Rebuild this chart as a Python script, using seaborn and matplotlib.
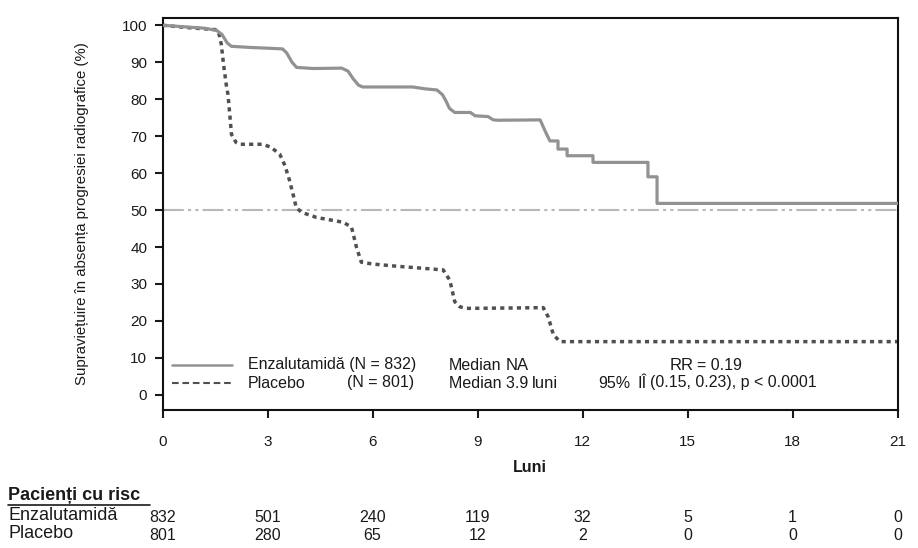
import pandas as pd
import matplotlib.pyplot as plt
import seaborn as sns
from matplotlib.lines import Line2D

# Kaplan-Meier curves (months, % free of radiographic progression)
enz_t = [0, 0.6, 1.2, 1.55, 1.7, 1.85, 1.97, 2.5, 3.0, 3.43, 3.55, 3.7, 3.83, 4.3, 5.12,
         5.3, 5.45, 5.6, 5.72, 7.15, 7.5, 7.84, 8.0, 8.1, 8.2, 8.35, 8.8, 8.93, 9.3, 9.45,
         9.6, 10.79, 10.95, 11.07, 11.3, 11.3, 11.56, 11.56, 12.3, 12.3, 13.87, 13.87,
         14.13, 14.13, 21]
enz_s = [100, 99.6, 99.2, 98.6, 97.5, 95.2, 94.3, 94.0, 93.8, 93.6, 92.5, 90.0, 88.6, 88.3, 88.4,
         87.6, 85.5, 83.8, 83.3, 83.3, 82.8, 82.5, 81.2, 79.5, 77.5, 76.4, 76.4, 75.5, 75.3, 74.4,
         74.3, 74.4, 71.0, 68.7, 68.7, 66.5, 66.5, 64.7, 64.7, 62.9, 62.9, 59.0,
         59.0, 51.8, 51.8]

plac_t = [0, 0.8, 1.55, 1.62, 1.68, 1.75, 1.82, 1.87, 1.93, 1.97, 2.1, 2.2, 2.86, 3.1, 3.35,
          3.5, 3.63, 3.75, 3.82, 3.97, 4.4, 5.16, 5.4, 5.54, 5.68, 6.0, 6.69, 7.5, 8.02, 8.21,
          8.35, 8.5, 8.69, 10.0, 10.88, 11.02, 11.17, 11.36, 21]
plac_s = [100, 99.3, 98.8, 97.5, 94.8, 89.0, 84.0, 81.3, 75.0, 70.5, 68.3, 67.8, 67.8, 67.0, 65.1,
          62.0, 58.0, 53.5, 50.7, 49.4, 48.0, 46.7, 45.4, 40.0, 35.9, 35.4, 34.8, 34.2, 33.8, 31.0,
          25.2, 23.8, 23.4, 23.5, 23.6, 21.1, 16.2, 14.4, 14.4]

months = [0, 3, 6, 9, 12, 15, 18, 21]
risk_enz = [832, 501, 240, 119, 32, 5, 1, 0]
risk_plac = [801, 280, 65, 12, 2, 0, 0, 0]
yticks = [0, 10, 20, 30, 40, 50, 60, 70, 80, 90, 100]

sns.set_theme(style='white')
plt.rcParams['font.family'] = ['Liberation Sans', 'DejaVu Sans']
txt_col = '#1a1a1a'

W, H = 918, 548
fig = plt.figure(figsize=(W / 100, H / 100), dpi=100)
ax = fig.add_axes([162.5 / W, 1 - 410 / H, (897.5 - 162.5) / W, (410 - 17.5) / H])
renderer = fig.canvas.get_renderer()


def px(x, y):
    # pixel position of the reference image -> figure fraction
    return x / W, 1 - y / H


def chain(x, y, parts):
    # write pieces of text one after the other, each with its own style
    for s, st, gap in parts:
        t = fig.text(*px(x, y), s, ha='left', va='center', color=txt_col, **st)
        x = t.get_window_extent(renderer).x1 + gap


df_enz = pd.DataFrame({'t': enz_t, 's': enz_s})
df_plac = pd.DataFrame({'t': plac_t, 's': plac_s})

ax.axhline(50, color='#b8b8b8', lw=1.5, dashes=(10, 2, 1.5, 2, 1.5, 2), zorder=1)
sns.lineplot(data=df_enz, x='t', y='s', sort=False, estimator=None, ax=ax,
             color='#929292', lw=2.3, zorder=3)
sns.lineplot(data=df_plac, x='t', y='s', sort=False, estimator=None, ax=ax,
             color='#505050', lw=2.5, zorder=2)
ax.lines[-1].set_dashes((1.2, 1.2))

ax.set_xlim(0, 21)
ax.set_ylim(-4.1, 102.1)
ax.set_xticks(months)
ax.set_yticks(yticks)
ax.tick_params(axis='both', direction='out', length=6, width=1.5, colors=txt_col,
               labelsize=11, bottom=True, left=True)
ax.tick_params(axis='x', pad=12)
ax.tick_params(axis='y', pad=5)
for s in ax.spines.values():
    s.set_color('#111111')
    s.set_linewidth(1.5)

ax.set_xlabel('')
ax.set_ylabel('Supraviețuire în absența progresiei radiografice (%)', fontsize=10.8,
              color=txt_col)
ax.yaxis.set_label_coords(-0.1, 0.5)
fig.text(*px(530, 468), 'Luni', ha='center', va='center', fontsize=11.5,
         fontweight='bold', color=txt_col)

# legend block inside the axes
fig.add_artist(Line2D([172 / W, 232 / W], [1 - 365 / H] * 2, color='#929292', lw=1.8))
fig.add_artist(Line2D([172 / W, 232 / W], [1 - 383 / H] * 2, color='#505050', lw=1.5,
                      dashes=(3.2, 1.8)))
leg = dict(fontsize=11.5)
reg = dict(fontsize=12)
chain(248, 365, [('Enzalutamidă (N = 832)', leg, 0)])
chain(248, 383, [('Placebo', leg, 0)])
chain(347, 383, [('(N = 801)', leg, 0)])
chain(449, 365, [('Median', leg, 4), ('NA', reg, 0)])
chain(449, 383, [('Median 3.9', leg, 4), ('luni', reg, 0)])
chain(670, 365, [('RR', reg, 3), ('= 0.19', leg, 0)])
chain(598, 383, [('95%', leg, 7), ('IÎ', reg, 4), ('(0.15, 0.23), p < 0.0001', leg, 0)])

# number at risk table
fig.text(*px(8, 495), 'Pacienți cu risc', ha='left', va='center', fontsize=13,
         fontweight='bold', color=txt_col)
fig.add_artist(Line2D([8 / W, 150 / W], [1 - 504.5 / H] * 2, color=txt_col, lw=1.2))
fig.text(*px(8, 515), 'Enzalutamidă', ha='left', va='center', fontsize=13, color=txt_col)
fig.text(*px(8, 533), 'Placebo', ha='left', va='center', fontsize=13, color=txt_col)
xfrac = ax.get_xaxis_transform()
for m, a, b in zip(months, risk_enz, risk_plac):
    ax.text(m, (410 - 518) / (410 - 17.5), str(a), transform=xfrac, ha='center',
            va='center', fontsize=11.5, color=txt_col, clip_on=False)
    ax.text(m, (410 - 536) / (410 - 17.5), str(b), transform=xfrac, ha='center',
            va='center', fontsize=11.5, color=txt_col, clip_on=False)

fig.savefig('out.png', dpi=100)
